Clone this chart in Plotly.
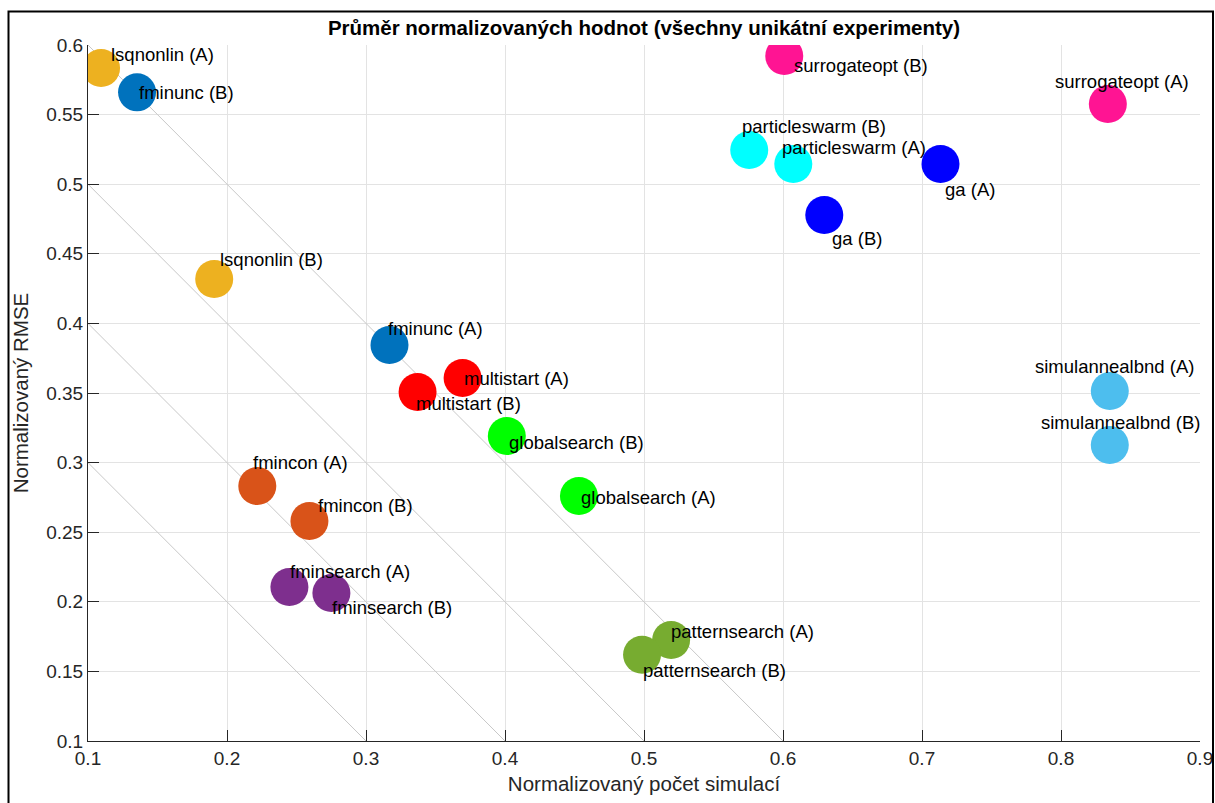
import plotly.graph_objects as go

# ---- data ----
labels = [
    "lsqnonlin (A)", "fminunc (B)", "lsqnonlin (B)", "fminunc (A)",
    "multistart (A)", "multistart (B)", "globalsearch (B)", "globalsearch (A)",
    "fmincon (A)", "fmincon (B)", "fminsearch (A)", "fminsearch (B)",
    "patternsearch (A)", "patternsearch (B)", "particleswarm (B)", "particleswarm (A)",
    "ga (A)", "ga (B)", "surrogateopt (B)", "surrogateopt (A)",
    "simulannealbnd (A)", "simulannealbnd (B)",
]
x_sim = [
    0.1094, 0.1353, 0.1908, 0.3169,
    0.3695, 0.3371, 0.4013, 0.4532,
    0.2218, 0.2593, 0.2449, 0.2751,
    0.5195, 0.4986, 0.5757, 0.6074,
    0.7133, 0.6297, 0.6009, 0.8337,
    0.8351, 0.8351,
]
y_rmse = [
    0.5835, 0.5660, 0.4319, 0.3845,
    0.3608, 0.3507, 0.3191, 0.2760,
    0.2832, 0.2580, 0.2106, 0.2063,
    0.1726, 0.1620, 0.5246, 0.5145,
    0.5145, 0.4779, 0.5921, 0.5576,
    0.3514, 0.3126,
]
methods = [
    "lsqnonlin", "fminunc", "lsqnonlin", "fminunc",
    "multistart", "multistart", "globalsearch", "globalsearch",
    "fmincon", "fmincon", "fminsearch", "fminsearch",
    "patternsearch", "patternsearch", "particleswarm", "particleswarm",
    "ga", "ga", "surrogateopt", "surrogateopt",
    "simulannealbnd", "simulannealbnd",
]
diag_sums = [0.4, 0.5, 0.6, 0.7]
x_ticks = [0.1, 0.2, 0.3, 0.4, 0.5, 0.6, 0.7, 0.8, 0.9]
y_ticks = [0.1, 0.15, 0.2, 0.25, 0.3, 0.35, 0.4, 0.45, 0.5, 0.55, 0.6]

# ---- styles ----
colors = {
    "lsqnonlin": "#EDB120", "fminunc": "#0072BD", "fmincon": "#D95319",
    "fminsearch": "#7E2F8E", "patternsearch": "#77AC30", "simulannealbnd": "#4DBEEE",
    "multistart": "#FF0000", "globalsearch": "#00FF00", "particleswarm": "#00FFFF",
    "ga": "#0000FF", "surrogateopt": "#FF1493",
}
# label pixel offsets (dx right, dy down) relative to marker centre
label_offsets = {
    "lsqnonlin (A)": (9, -13), "fminunc (B)": (1, 0), "lsqnonlin (B)": (5, -20),
    "fminunc (A)": (-2, -16), "multistart (A)": (0, 1), "multistart (B)": (-3, 11),
    "globalsearch (B)": (1, 6), "globalsearch (A)": (1, 1), "fmincon (A)": (-5, -23),
    "fmincon (B)": (8, -16), "fminsearch (A)": (0, -16), "fminsearch (B)": (0, 14),
    "patternsearch (A)": (-1, -8), "patternsearch (B)": (0, 16),
    "particleswarm (B)": (-8, -23), "particleswarm (A)": (-12, -17),
    "ga (A)": (4, 25), "ga (B)": (7, 24), "surrogateopt (B)": (9, 9),
    "surrogateopt (A)": (-54, -23), "simulannealbnd (A)": (-76, -25),
    "simulannealbnd (B)": (-70, -23),
}
FONT = "Arial, Liberation Sans, Helvetica, sans-serif"
ymin = 0.1

W, H = 1215, 803
ML, MT, PW, PH = 88, 45, 1112, 696

fig = go.Figure()

for c in diag_sums:
    fig.add_trace(go.Scatter(
        x=[0.1, c - ymin], y=[c - 0.1, ymin], mode="lines",
        line=dict(color="#c8c8c8", width=1), hoverinfo="skip", showlegend=False))

fig.add_trace(go.Scatter(
    x=x_sim, y=y_rmse, mode="markers",
    marker=dict(size=38, color=[colors[m] for m in methods], line=dict(width=0), opacity=1),
    text=labels, hoverinfo="text", showlegend=False))

for lab, xv, yv in zip(labels, x_sim, y_rmse):
    dx, dy = label_offsets[lab]
    fig.add_annotation(x=xv, y=yv, text=lab, showarrow=False, xanchor="left", yanchor="middle",
                       xshift=dx - 1, yshift=-dy, font=dict(family=FONT, size=18.5, color="#000000"))

axis_common = dict(
    showgrid=True, gridcolor="#e3e3e3", gridwidth=1, zeroline=False,
    showline=True, linecolor="#262626", linewidth=1, ticks="inside", ticklen=11,
    tickcolor="#262626", tickfont=dict(family=FONT, size=19, color="#262626"),
    mirror=False, automargin=False,
)

fig.update_layout(
    width=W, height=H,
    margin=dict(l=ML, r=W - ML - PW, t=MT, b=H - MT - PH),
    paper_bgcolor="white", plot_bgcolor="white",
    title=dict(text="<b>Průměr normalizovaných hodnot (všechny unikátní experimenty)</b>",
               x=(644 - ML) / PW, xanchor="center", xref="paper",
               y=1 - 28 / H, yanchor="middle",
               font=dict(family=FONT, size=20.5, color="#000000")),
    xaxis=dict(range=[0.1, 0.9], tickvals=x_ticks, ticktext=[f"{v:g}" for v in x_ticks],
               title=dict(text="Normalizovaný počet simulací", standoff=8,
                          font=dict(family=FONT, size=20.5, color="#262626")),
               **axis_common),
    yaxis=dict(range=[0.1, 0.6], tickvals=y_ticks, ticktext=[f"{v:g}" for v in y_ticks],
               title=dict(text="Normalizovaný RMSE", standoff=12,
                          font=dict(family=FONT, size=20.5, color="#262626")),
               **axis_common),
    shapes=[dict(type="rect", xref="paper", yref="paper",
                 x0=(8.5 - ML) / PW, x1=(1213 - ML) / PW,
                 y0=-0.3, y1=(PH + MT - 11.5) / PH,
                 line=dict(color="#000000", width=2), fillcolor="rgba(0,0,0,0)", layer="above")],
)

fig.write_html("out.html", config={"displayModeBar": False},
               post_script="document.body.style.margin='0';document.body.style.overflow='hidden';")
